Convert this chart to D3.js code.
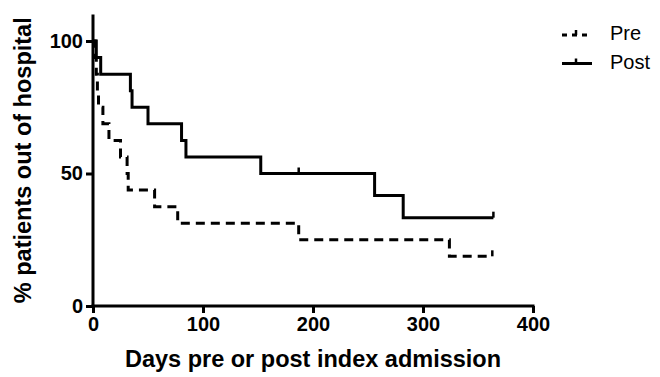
<!DOCTYPE html>
<html>
<head>
<meta charset="utf-8">
<script src="https://cdn.jsdelivr.net/npm/d3@7"></script>
<style>
  html, body { margin: 0; padding: 0; background: #fff; }
  svg { display: block; }
  text { font-family: "Liberation Sans", Arial, sans-serif; }
</style>
</head>
<body>
<svg id="chart" width="660" height="377"></svg>
<script>
// ---- Data ----
const xTicks = [0, 100, 200, 300, 400];
const yTicks = [0, 50, 100];
const seriesNames = ["Pre", "Post"];

const preDays = [0, 2, 3, 4, 5, 9, 14.5, 25, 31, 32, 56, 77, 187, 324, 363];
const preVals = [100, 93.75, 87.5, 81.25, 75, 68.75, 62.5, 56.25, 50, 43.75, 37.5, 31.25, 25, 18.75, 18.75];
const preCensorDays = [363];
const preCensorVals = [18.75];

const postDays = [0, 3, 7, 34, 35.5, 50, 80.5, 84.5, 152.5, 256, 282, 364];
const postVals = [100, 93.75, 87.5, 81.25, 75, 68.75, 62.5, 56.25, 50, 41.67, 33.33, 33.33];
const postCensorDays = [187, 364];
const postCensorVals = [50, 33.33];

const xLabel = "Days pre or post index admission";
const yLabel = "% patients out of hospital";

// ---- Chart ----
const svg = d3.select("#chart");
const x = d3.scaleLinear().domain([0, 400]).range([93, 533]);
const y = d3.scaleLinear().domain([0, 110]).range([306, 306 - 291.5]);

const toPts = (days, vals) => days.map((d, i) => [d, vals[i]]);
const line = d3.line().x(d => x(d[0])).y(d => y(d[1])).curve(d3.curveStepAfter);

const styles = {
  Pre: { dash: "9,6" },
  Post: { dash: null }
};

const series = [
  { name: "Pre", pts: toPts(preDays, preVals), cens: toPts(preCensorDays, preCensorVals) },
  { name: "Post", pts: toPts(postDays, postVals), cens: toPts(postCensorDays, postCensorVals) }
];

series.forEach(s => {
  svg.append("path")
    .attr("d", line(s.pts))
    .attr("fill", "none")
    .attr("stroke", "#000")
    .attr("stroke-width", 3)
    .attr("stroke-dasharray", styles[s.name].dash)
    .attr("stroke-linejoin", "miter");
  svg.selectAll(null).data(s.cens).enter().append("line")
    .attr("x1", d => x(d[0])).attr("x2", d => x(d[0]))
    .attr("y1", d => y(d[1])).attr("y2", d => y(d[1]) - 6)
    .attr("stroke", "#000").attr("stroke-width", 2.5);
});

// Axes
const xAxis = svg.append("g").attr("transform", "translate(0,306)")
  .call(d3.axisBottom(x).tickValues(xTicks).tickSize(7).tickPadding(4).tickSizeOuter(0));
const yAxis = svg.append("g").attr("transform", "translate(93,0)")
  .call(d3.axisLeft(y).tickValues(yTicks).tickSize(7).tickPadding(3).tickSizeOuter(0));

[xAxis, yAxis].forEach(g => {
  g.select(".domain").attr("stroke", "#000").attr("stroke-width", 3);
  g.selectAll(".tick line").attr("stroke", "#000").attr("stroke-width", 3);
  g.selectAll(".tick text")
    .attr("fill", "#000")
    .style("font-family", "'Liberation Sans', Arial, sans-serif")
    .style("font-weight", "bold")
    .style("font-size", "20px");
});
xAxis.select(".domain").attr("d", `M${x(0) - 1.5},0H${x(400) + 1.5}`);
yAxis.select(".domain").attr("d", `M0,${y(0) + 1.5}V${y(110)}`);

// Axis titles
svg.append("text")
  .attr("x", (x(0) + x(400)) / 2).attr("y", 367)
  .attr("text-anchor", "middle")
  .style("font-weight", "bold").style("font-size", "23.5px")
  .text(xLabel);

svg.append("text")
  .attr("transform", `translate(31,${(y(0) + y(110)) / 2}) rotate(-90)`)
  .attr("text-anchor", "middle")
  .style("font-weight", "bold").style("font-size", "23.5px")
  .text(yLabel);

// Legend
const legendY = [35, 63.5];
seriesNames.forEach((name, i) => {
  const g = svg.append("g");
  g.append("line")
    .attr("x1", 562).attr("x2", 592)
    .attr("y1", legendY[i]).attr("y2", legendY[i])
    .attr("stroke", "#000").attr("stroke-width", 3)
    .attr("stroke-dasharray", name === "Pre" ? "5,5" : null);
  g.append("line")
    .attr("x1", 576).attr("x2", 576)
    .attr("y1", legendY[i]).attr("y2", legendY[i] - 5)
    .attr("stroke", "#000").attr("stroke-width", 2.5);
  g.append("text")
    .attr("x", 610).attr("y", legendY[i] + 5)
    .style("font-size", "20px")
    .text(name);
});
</script>
</body>
</html>
